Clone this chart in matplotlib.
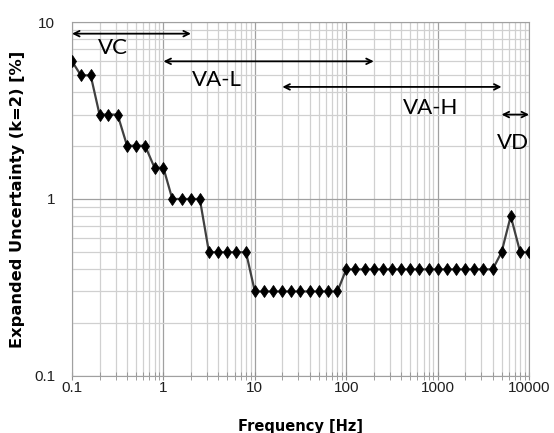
import matplotlib
matplotlib.use("Agg")
import matplotlib.pyplot as plt
from matplotlib.ticker import LogLocator, FixedLocator, NullFormatter

# 1/3-octave frequencies [Hz] and expanded uncertainty [%]
freqs = [0.1, 0.125, 0.16, 0.2, 0.25, 0.315, 0.4, 0.5, 0.63, 0.8,
         1, 1.25, 1.6, 2, 2.5, 3.15, 4, 5, 6.3, 8,
         10, 12.5, 16, 20, 25, 31.5, 40, 50, 63, 80,
         100, 125, 160, 200, 250, 315, 400, 500, 630, 800,
         1000, 1250, 1600, 2000, 2500, 3150, 4000, 5000, 6300, 8000, 10000]
uncert = [6, 5, 5, 3, 3, 3, 2, 2, 2, 1.5,
          1.5, 1, 1, 1, 1, 0.5, 0.5, 0.5, 0.5, 0.5,
          0.3, 0.3, 0.3, 0.3, 0.3, 0.3, 0.3, 0.3, 0.3, 0.3,
          0.4, 0.4, 0.4, 0.4, 0.4, 0.4, 0.4, 0.4, 0.4, 0.4,
          0.4, 0.4, 0.4, 0.4, 0.4, 0.4, 0.4, 0.5, 0.8, 0.5, 0.5]

# frequency ranges: name, start, end, arrow level, label position
ranges = ["VC", "VA-L", "VA-H", "VD"]
range_lo = [0.1, 1, 20, 5000]
range_hi = [2, 200, 5000, 10000]
range_y = [8.6, 6.0, 4.3, 3.0]
label_x = [0.28, 3.8, 830, 6700]
label_y = [7.1, 4.7, 3.27, 2.07]

plt.rcParams["font.family"] = ["Liberation Sans", "DejaVu Sans"]

fig = plt.figure(figsize=(5.54, 4.33), dpi=100)
ax = fig.add_axes([0.130, 0.132, 0.825, 0.817])

ax.set_xscale("log")
ax.set_yscale("log")
ax.set_xlim(0.1, 10000)
ax.set_ylim(0.1, 10)

ax.grid(True, which="major", color="#a0a0a0", linewidth=0.9)
ax.grid(True, which="minor", color="#d0d0d0", linewidth=0.9)
ax.xaxis.set_minor_locator(LogLocator(base=10, subs=range(2, 10)))
ax.yaxis.set_minor_locator(LogLocator(base=10, subs=range(2, 10)))
ax.xaxis.set_minor_formatter(NullFormatter())
ax.yaxis.set_minor_formatter(NullFormatter())
ax.xaxis.set_major_locator(FixedLocator([0.1, 1, 10, 100, 1000, 10000]))
ax.yaxis.set_major_locator(FixedLocator([0.1, 1, 10]))
ax.set_xticklabels(["0.1", "1", "10", "100", "1000", "10000"])
ax.set_yticklabels(["0.1", "1", "10"])
ax.tick_params(which="both", colors="#909090", labelcolor="#202020",
               labelsize=11, direction="inout", length=6)
ax.tick_params(axis="x", which="major", pad=1)
ax.tick_params(axis="y", which="both", length=0, pad=12)
for s in ax.spines.values():
    s.set_color("#a0a0a0")
ax.set_axisbelow(True)

ax.plot(freqs, uncert, color="#404040", linewidth=1.6, marker="d",
        markersize=6, markerfacecolor="black", markeredgecolor="black",
        markeredgewidth=0.6, zorder=3)

for name, lo, hi, y, tx, ty in zip(ranges, range_lo, range_hi, range_y,
                                   label_x, label_y):
    ax.annotate("", xy=(hi, y), xytext=(lo, y),
                arrowprops=dict(arrowstyle="<->", color="black", lw=1.3,
                                shrinkA=0, shrinkB=0))
    ax.text(tx, ty, name, fontsize=16, family="Lato", ha="center",
            va="center")

ax.set_xlabel("Frequency [Hz]", fontsize=10.5, fontweight="bold",
              family="DejaVu Sans", labelpad=17)
ax.set_ylabel("Expanded Uncertainty (k=2) [%]", fontsize=11.7,
              fontweight="bold", family="DejaVu Sans", labelpad=7)

fig.savefig("out.png", dpi=100)
